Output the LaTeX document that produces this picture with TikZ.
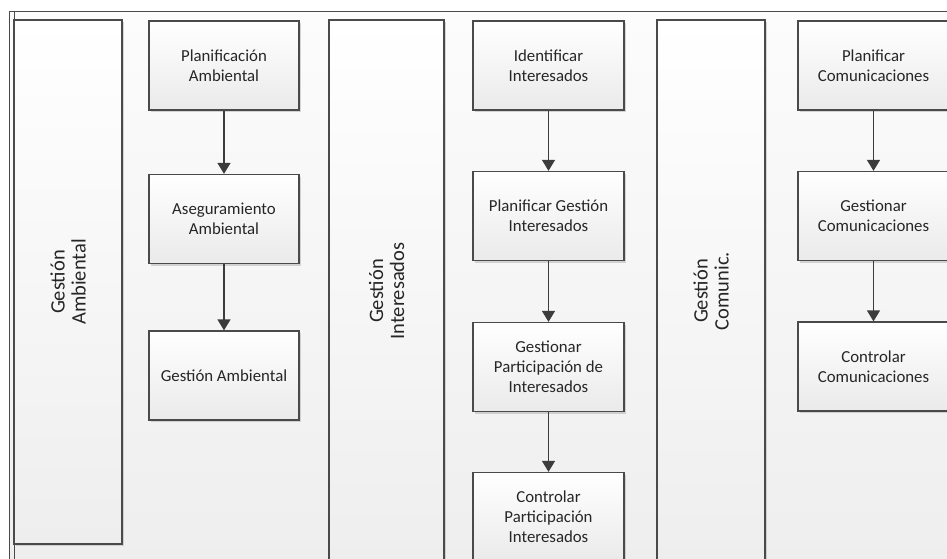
\documentclass[tikz,border=0pt]{standalone}
\usepackage{fontspec}
\setmainfont{Carlito}
\usetikzlibrary{arrows.meta,shadows,calc}

\definecolor{linegray}{HTML}{4A4A4A}
\definecolor{arrowgray}{HTML}{3C3C3C}
\definecolor{textgray}{HTML}{262626}
\definecolor{bgtop}{HTML}{FCFCFC}
\definecolor{bgbottom}{HTML}{EEEEEE}
\definecolor{boxbottom}{HTML}{EAEAEA}

\newcommand{\taskfont}{\fontsize{16.8}{20}\selectfont}
\newcommand{\lanefont}{\fontsize{20.5}{21}\selectfont}

\tikzset{
  softshadow/.style={drop shadow={shadow xshift=2pt, shadow yshift=-2pt, fill=black!35, opacity=0.45}},
  lane/.style={draw=linegray, line width=1.2pt, top color=white, bottom color=bgbottom,
    softshadow, inner sep=0pt, minimum width=#1},
  lanelabel/.style={rotate=90, align=center, text=textgray, font=\lanefont},
  task/.style={draw=linegray, line width=1.3pt, top color=white, bottom color=boxbottom,
    softshadow, align=center, text=textgray, font=\taskfont, inner sep=0pt,
    minimum width=151pt, minimum height=89pt},
  flow/.style={draw=arrowgray, line width=1.4pt, -{Triangle[length=11pt,width=13pt]}},
  frameline/.style={draw=linegray, line width=1pt},
}

\begin{document}
\begin{tikzpicture}[x=1pt,y=-1pt]
  \useasboundingbox (0,0) rectangle (947,558);
  \clip (0,0) rectangle (947,558);

  % page background and pool frame
  \fill[top color=bgtop, bottom color=bgbottom] (9,11) rectangle (960,570);
  \draw[frameline] (9,11) -- (960,11);
  \draw[frameline] (9,11) -- (9,570);
  \draw[frameline] (14,11) -- (14,570);

  % lanes
  \node[lane=108pt, minimum height=524pt] (laneA) at (68,282) {};
  \node[lanelabel] (laneAlabel) at (laneA.center) {Gestión\\Ambiental};

  \node[lane=115pt, minimum height=542pt] (laneB) at (386.5,291) {};
  \node[lanelabel] (laneBlabel) at (laneB.center) {Gestión\\Interesados};

  \node[lane=108pt, minimum height=542pt] (laneC) at (711,291) {};
  \node[lanelabel] (laneClabel) at (laneC.center) {Gestión\\Comunic.};

  % environmental management
  \node[task, minimum width=150pt] (a1) at (224,65.5) {Planificación\\Ambiental};
  \node[task, minimum width=150pt] (a2) at (224,219) {Aseguramiento\\Ambiental};
  \node[task, minimum width=150pt] (a3) at (224,375.5) {Gestión Ambiental};

  % stakeholder management
  \node[task] (b1) at (548.5,65.5) {Identificar\\Interesados};
  \node[task] (b2) at (548.5,216) {Planificar Gestión\\Interesados};
  \node[task] (b3) at (548.5,367) {Gestionar\\Participación de\\Interesados};
  \node[task] (b4) at (548.5,517) {Controlar\\Participación\\Interesados};

  % communications management
  \node[task] (c1) at (873.5,65.5) {Planificar\\Comunicaciones};
  \node[task] (c2) at (873.5,216) {Gestionar\\Comunicaciones};
  \node[task] (c3) at (873.5,366.5) {Controlar\\Comunicaciones};

  % sequence flows
  \draw[flow] (a1) -- (a2);
  \draw[flow] (a2) -- (a3);
  \draw[flow] (b1) -- (b2);
  \draw[flow] (b2) -- (b3);
  \draw[flow] (b3) -- (b4);
  \draw[flow] (c1) -- (c2);
  \draw[flow] (c2) -- (c3);
\end{tikzpicture}
\end{document}
